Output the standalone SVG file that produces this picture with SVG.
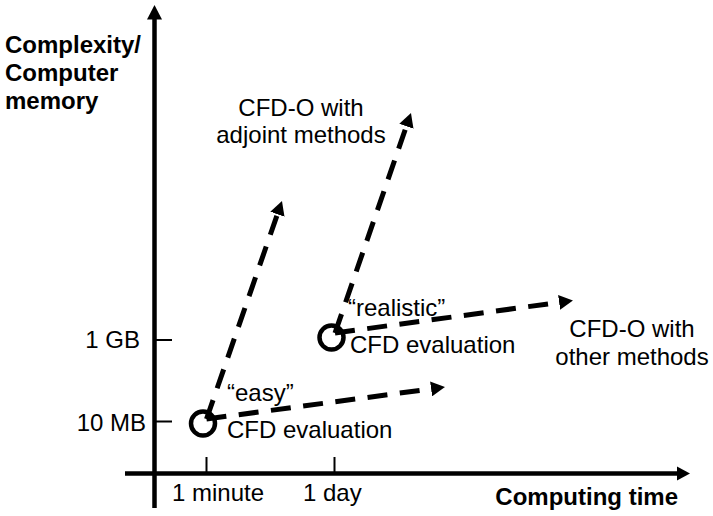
<svg xmlns="http://www.w3.org/2000/svg" width="713" height="516" viewBox="0 0 713 516">
  <style>
    text { font-family: "Liberation Sans", Arial, sans-serif; font-size: 24px; fill: #000; }
    .bold { font-weight: bold; }
    .axis { stroke: #000; stroke-width: 4.5; fill: none; }
    .tick { stroke: #000; stroke-width: 2; fill: none; }
    .flow { stroke: #000; stroke-width: 5; fill: none; stroke-dasharray: 20 12.5; marker-end: url(#head); }
    .point { stroke: #000; stroke-width: 4.5; fill: none; }
  </style>
  <defs>
    <marker id="head" markerUnits="userSpaceOnUse" viewBox="0 0 14 15" refX="0" refY="7.5" markerWidth="14" markerHeight="15" orient="auto">
      <path d="M0,0 L14,7.5 L0,15 Z" fill="#000"/>
    </marker>
  </defs>

  <rect width="713" height="516" fill="#fff"/>

  <!-- axes -->
  <g id="axes">
    <line class="axis" x1="154.5" y1="508" x2="154.5" y2="18"/>
    <polygon points="154.5,5 147,19.5 162,19.5" fill="#000"/>
    <line class="axis" x1="125" y1="473.5" x2="678" y2="473.5"/>
    <polygon points="690,473.5 677,466.5 677,480.5" fill="#000"/>
    <line class="tick" x1="154.5" y1="340" x2="172" y2="340"/>
    <line class="tick" x1="154.5" y1="421.5" x2="172" y2="421.5"/>
    <line class="tick" x1="206.5" y1="457" x2="206.5" y2="473"/>
    <line class="tick" x1="334.5" y1="457" x2="334.5" y2="473"/>
  </g>

  <!-- axis labels -->
  <g id="y-title">
    <text class="bold" x="5" y="53">Complexity/</text>
    <text class="bold" x="5" y="81">Computer</text>
    <text class="bold" x="5" y="109">memory</text>
  </g>
  <g id="x-title">
    <text class="bold" x="678" y="505" text-anchor="end">Computing time</text>
  </g>
  <g id="y-ticks">
    <text x="140" y="348" text-anchor="end">1 GB</text>
    <text x="146" y="431" text-anchor="end">10 MB</text>
  </g>
  <g id="x-ticks">
    <text x="172" y="501">1 minute</text>
    <text x="303" y="501">1 day</text>
  </g>

  <!-- connectors -->
  <g id="connectors">
    <line class="flow" x1="206.5" y1="419" x2="277.4" y2="214.2"/>
    <line class="flow" x1="206.5" y1="419" x2="431.1" y2="388.9"/>
    <line class="flow" x1="335" y1="333" x2="406.4" y2="126.2"/>
    <line class="flow" x1="335" y1="333" x2="559.1" y2="302.4"/>
  </g>

  <!-- nodes -->
  <g id="easy">
    <circle class="point" cx="203" cy="423.5" r="12"/>
    <text x="227" y="401">“easy”</text>
    <text x="227" y="438">CFD evaluation</text>
  </g>
  <g id="realistic">
    <circle class="point" cx="331.5" cy="337.5" r="12"/>
    <text x="348" y="316">“realistic”</text>
    <text x="350" y="353">CFD evaluation</text>
  </g>
  <g id="adjoint">
    <text x="301" y="116" text-anchor="middle">CFD-O with</text>
    <text x="301" y="143" text-anchor="middle">adjoint methods</text>
  </g>
  <g id="other">
    <text x="632" y="337" text-anchor="middle">CFD-O with</text>
    <text x="632" y="365" text-anchor="middle">other methods</text>
  </g>
</svg>
